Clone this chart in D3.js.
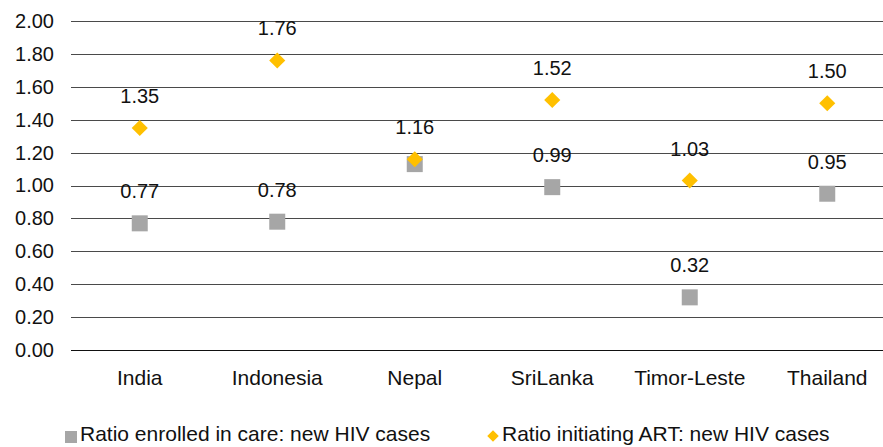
<!DOCTYPE html>
<html>
<head>
<meta charset="utf-8">
<script src="https://cdn.jsdelivr.net/npm/d3@7"></script>
<style>
  body { margin: 0; background: #fff; }
  svg text { font-family: "Liberation Sans", Arial, Helvetica, sans-serif; fill: #111; }
</style>
</head>
<body>
<svg id="chart" width="883" height="447"></svg>
<script>
const countries = ["India", "Indonesia", "Nepal", "SriLanka", "Timor-Leste", "Thailand"]
const careRatio = [0.77, 0.78, 1.13, 0.99, 0.32, 0.95]
const careLabels = ["0.77", "0.78", null, "0.99", "0.32", "0.95"]
const artRatio = [1.35, 1.76, 1.16, 1.52, 1.03, 1.50]
const yTicks = [0, 0.2, 0.4, 0.6, 0.8, 1.0, 1.2, 1.4, 1.6, 1.8, 2.0]
const seriesNames = ["Ratio enrolled in care: new HIV cases", "Ratio initiating ART: new HIV cases"]

const svg = d3.select("#chart")

const x = d3.scaleBand().domain(countries).range([71, 896])
const y = d3.scaleLinear().domain([0, 2]).range([350, 21])

// grid
svg.append("g")
    .selectAll("line")
    .data(yTicks)
    .join("line")
    .attr("x1", 71).attr("x2", 896)
    .attr("y1", d => Math.round(y(d)) + 0.5)
    .attr("y2", d => Math.round(y(d)) + 0.5)
    .attr("stroke", d => d === 0 ? "#111" : "#4a4a4a")
    .attr("stroke-width", 1)

// y axis labels
const yAxis = d3.axisLeft(y).tickValues(yTicks).tickFormat(d3.format(".2f")).tickSize(0).tickPadding(0)
const gy = svg.append("g").attr("transform", "translate(54,0)").call(yAxis)
gy.select(".domain").remove()
gy.selectAll("text").attr("font-size", 20).attr("fill", "#111")

// x labels
const xAxis = d3.axisBottom(x).tickSize(0).tickPadding(0)
const gx = svg.append("g").attr("transform", "translate(0,385)").call(xAxis)
gx.select(".domain").remove()
gx.selectAll("text").attr("font-size", 21).attr("fill", "#111").attr("dy", 0)

const cx = d => x(d) + x.bandwidth() / 2

// grey squares
const sq = 16
svg.append("g")
    .selectAll("rect")
    .data(countries)
    .join("rect")
    .attr("x", (d, i) => cx(d) - sq / 2)
    .attr("y", (d, i) => y(careRatio[i]) - sq / 2)
    .attr("width", sq).attr("height", sq)
    .attr("fill", "#a6a6a6")

// orange diamonds
const diamond = d3.symbol().type(d3.symbolDiamond2).size(165)
svg.append("g")
    .selectAll("path")
    .data(countries)
    .join("path")
    .attr("d", diamond)
    .attr("transform", (d, i) => `translate(${cx(d)},${y(artRatio[i])})`)
    .attr("fill", "#ffc000")

// value labels
svg.append("g")
    .selectAll("text")
    .data(countries.filter((d, i) => careLabels[i] !== null))
    .join("text")
    .attr("x", d => cx(d))
    .attr("y", d => y(careRatio[countries.indexOf(d)]) - 25)
    .attr("text-anchor", "middle")
    .attr("font-size", 20)
    .text(d => careLabels[countries.indexOf(d)])

svg.append("g")
    .selectAll("text")
    .data(countries)
    .join("text")
    .attr("x", d => cx(d))
    .attr("y", (d, i) => y(artRatio[i]) - 25)
    .attr("text-anchor", "middle")
    .attr("font-size", 20)
    .text((d, i) => d3.format(".2f")(artRatio[i]))

// legend
const leg = svg.append("g")
leg.append("rect").attr("x", 65).attr("y", 431).attr("width", 12).attr("height", 12).attr("fill", "#a6a6a6")
leg.append("text").attr("x", 80).attr("y", 441).attr("font-size", 21).text(seriesNames[0])
leg.append("path").attr("d", d3.symbol().type(d3.symbolDiamond2).size(85))
    .attr("transform", "translate(493,436)").attr("fill", "#ffc000")
leg.append("text").attr("x", 502).attr("y", 441).attr("font-size", 21).text(seriesNames[1])
</script>
</body>
</html>
